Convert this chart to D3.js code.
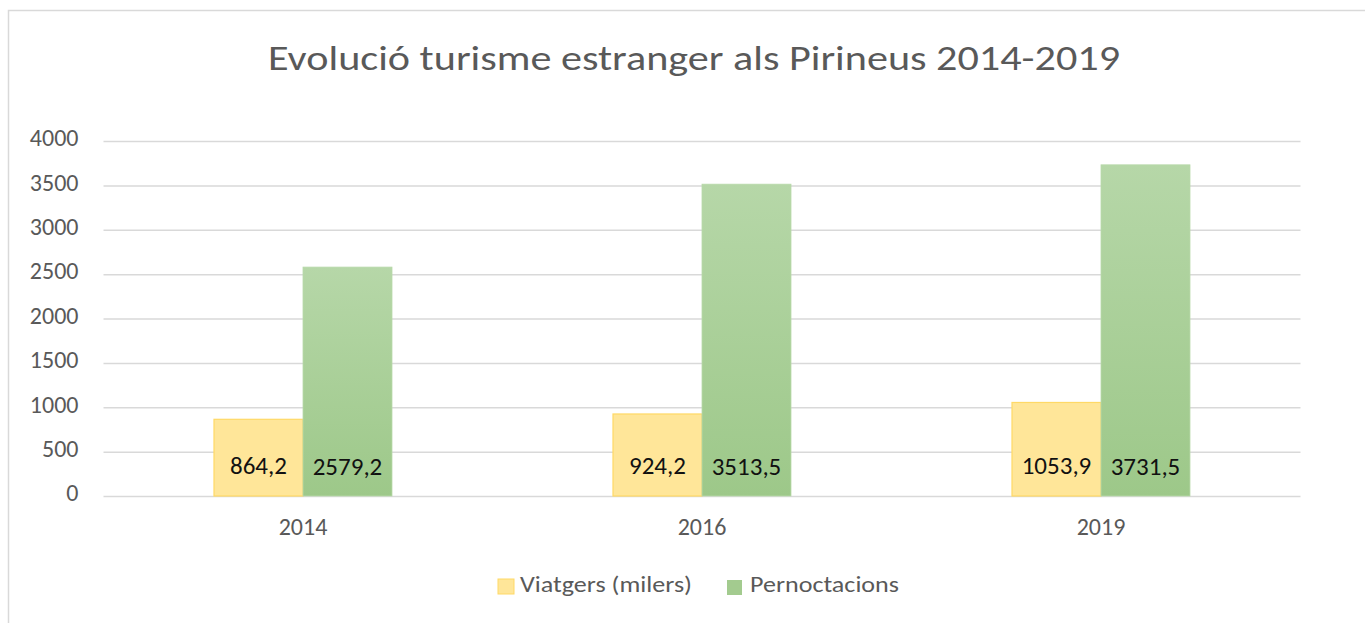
<!DOCTYPE html>
<html><head><meta charset="utf-8">
<script src="https://cdn.jsdelivr.net/npm/d3@7"></script>
<style>html,body{margin:0;padding:0;background:#fff;}svg{display:block;}</style>
</head><body>
<script>
const title = "Evolució turisme estranger als Pirineus 2014-2019";
const categories = ["2014", "2016", "2019"];
const seriesNames = ["Viatgers (milers)", "Pernoctacions"];
const viatgers = [864.2, 924.2, 1053.9];
const pernoctacions = [2579.2, 3513.5, 3731.5];
const labelsViatgers = ["864,2", "924,2", "1053,9"];
const labelsPernoctacions = ["2579,2", "3513,5", "3731,5"];
const yTicks = [0, 500, 1000, 1500, 2000, 2500, 3000, 3500, 4000];

const W = 1365, H = 623;
const font = "Carlito, Calibri, 'Open Sans', 'Liberation Sans', sans-serif";
const svg = d3.select("body").append("svg").attr("width", W).attr("height", H);

const defs = svg.append("defs");
const gg = defs.append("linearGradient").attr("id","gGreen").attr("x1",0).attr("y1",0).attr("x2",0).attr("y2",1);
gg.append("stop").attr("offset","0%").attr("stop-color","#b6d7a8");
gg.append("stop").attr("offset","100%").attr("stop-color","#9dc889");

// border
svg.append("path").attr("d", `M8.5,${H} V10.5 H${W}`).attr("fill","none").attr("stroke","#d9d9d9").attr("stroke-width",1.5);

const x0 = 103.5, x1 = 1300.5, yTop = 141, yBot = 496;
const x = d3.scaleBand().domain(categories).range([x0, x1]);
const y = d3.scaleLinear().domain([0, 4000]).range([yBot, yTop]);
const barW = 89;

// title
svg.append("text").attr("x", 694).attr("y", 70).attr("text-anchor","middle")
  .attr("font-family", font).attr("font-size", 34).attr("fill","#595959")
  .attr("textLength", 852).attr("lengthAdjust","spacingAndGlyphs").text(title);

// grid + y labels
const yAxis = d3.axisLeft(y).tickValues(yTicks).tickSize(-(x1 - x0)).tickPadding(25).tickFormat(d3.format("d"));
const ga = svg.append("g").attr("transform", `translate(${x0},0)`).call(yAxis);
ga.select(".domain").remove();
ga.selectAll(".tick line").attr("stroke","#d9d9d9").attr("stroke-width",1.5);
ga.selectAll(".tick text").attr("font-family", font).attr("font-size", 24).attr("fill","#595959").attr("dy","0.2em");

// x axis labels
const xAxis = d3.axisBottom(x).tickSize(0).tickPadding(0);
const gx = svg.append("g").attr("transform", `translate(0,${yBot})`).call(xAxis);
gx.select(".domain").remove();
gx.selectAll(".tick text").attr("font-family", font).attr("font-size", 24).attr("fill","#595959")
  .attr("y", 39).attr("dy", 0);

const data = categories.map((c, i) => ({c, v: viatgers[i], p: pernoctacions[i], lv: labelsViatgers[i], lp: labelsPernoctacions[i]}));
const cx = c => x(c) + x.bandwidth() / 2;

svg.append("g").selectAll("rect").data(data).join("rect")
  .attr("x", d => cx(d.c) - barW).attr("y", d => y(d.v))
  .attr("width", barW).attr("height", d => yBot - y(d.v))
  .attr("fill", "#ffe699").attr("stroke", "#ffd966").attr("stroke-width", 1.2);
svg.append("g").selectAll("rect").data(data).join("rect")
  .attr("x", d => cx(d.c)).attr("y", d => y(d.p))
  .attr("width", barW).attr("height", d => yBot - y(d.p))
  .attr("fill", "url(#gGreen)").attr("stroke", "#b8d9aa").attr("stroke-width", 0.8);

svg.append("g").selectAll("text").data(data).join("text")
  .attr("x", d => cx(d.c) - barW / 2).attr("y", 474).attr("text-anchor","middle")
  .attr("font-family", font).attr("font-size", 25).attr("fill","#111").text(d => d.lv);
svg.append("g").selectAll("text").data(data).join("text")
  .attr("x", d => cx(d.c) + barW / 2).attr("y", 475).attr("text-anchor","middle")
  .attr("font-family", font).attr("font-size", 25).attr("fill","#111").text(d => d.lp);

// legend
const leg = svg.append("g");
leg.append("rect").attr("x", 498).attr("y", 579).attr("width", 16).attr("height", 15).attr("fill","#ffe699").attr("stroke","#ffd966");
leg.append("text").attr("x", 520).attr("y", 592).attr("font-family", font).attr("font-size", 23).attr("fill","#595959")
  .attr("textLength", 172).attr("lengthAdjust","spacingAndGlyphs").text(seriesNames[0]);
leg.append("rect").attr("x", 727).attr("y", 580).attr("width", 15).attr("height", 15).attr("fill","#a3cb8f");
leg.append("text").attr("x", 750).attr("y", 592).attr("font-family", font).attr("font-size", 23).attr("fill","#595959")
  .attr("textLength", 149).attr("lengthAdjust","spacingAndGlyphs").text(seriesNames[1]);
</script>
</body></html>
